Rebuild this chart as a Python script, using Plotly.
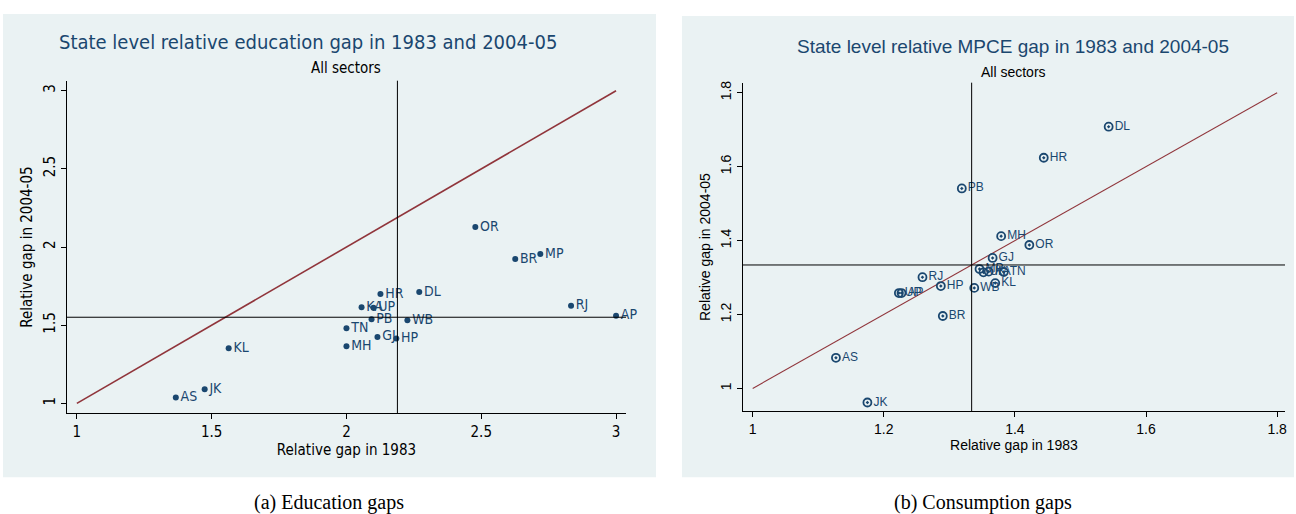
import plotly.graph_objects as go

# Panel (a): relative education gap by state
edu_states = ["AS", "JK", "KL", "MH", "TN", "GJ", "HP", "PB", "KA", "UP",
              "WB", "HR", "DL", "OR", "BR", "MP", "RJ", "AP"]
edu_1983 = [1.367, 1.474, 1.563, 2.0, 2.0, 2.115, 2.185, 2.093, 2.056, 2.1,
            2.226, 2.126, 2.270, 2.478, 2.626, 2.719, 2.833, 3.0]
edu_2004 = [1.038, 1.090, 1.353, 1.365, 1.480, 1.425, 1.415, 1.538, 1.615, 1.612,
            1.532, 1.699, 1.712, 2.128, 1.923, 1.955, 1.624, 1.560]
edu_diag = [1, 3]
edu_mean_1983 = 2.189
edu_mean_2004 = 1.551

# Panel (b): relative MPCE gap by state
mpce_states = ["JK", "AS", "BR", "UP", "AP", "RJ", "HP", "WB", "PB", "MP",
               "UK", "KA", "TN", "KL", "GJ", "MH", "OR", "HR", "DL"]
mpce_1983 = [1.175, 1.127, 1.290, 1.223, 1.227, 1.259, 1.287, 1.338, 1.319, 1.346,
             1.352, 1.360, 1.383, 1.370, 1.366, 1.379, 1.422, 1.444, 1.543]
mpce_2004 = [0.962, 1.083, 1.196, 1.258, 1.258, 1.301, 1.277, 1.272, 1.541, 1.323,
             1.314, 1.316, 1.315, 1.285, 1.353, 1.412, 1.388, 1.624, 1.708]
mpce_diag = [1, 1.8]
mpce_mean = 1.334

edu_ticks = [1, 1.5, 2, 2.5, 3]
mpce_ticks = [1, 1.2, 1.4, 1.6, 1.8]

NAVY = "#1a476f"
MAROON = "#90353b"
BG = "#eaf2f3"
NARROW = "Liberation Sans Narrow, DejaVu Sans Condensed, Liberation Sans, sans-serif"
SANS = "Liberation Sans, Arial, sans-serif"
SERIF = "Liberation Serif, DejaVu Serif, serif"

W, H = 1296, 514


def px(x):
    return x / W


def py(y):
    return 1 - y / H


fig = go.Figure()

# panel backgrounds
for x0, x1, y0, y1 in [(3, 657, 12, 477), (683, 1296, 14, 477)]:
    fig.add_shape(type="rect", xref="paper", yref="paper",
                  x0=px(x0), x1=px(x1), y0=py(y1), y1=py(y0),
                  fillcolor=BG, line_width=0, layer="below")

# diagonal lines
fig.add_trace(go.Scatter(x=edu_diag, y=edu_diag, mode="lines",
                         line=dict(color=MAROON, width=1.6),
                         xaxis="x", yaxis="y", hoverinfo="skip"))
fig.add_trace(go.Scatter(x=mpce_diag, y=mpce_diag, mode="lines",
                         line=dict(color=MAROON, width=1.1),
                         xaxis="x2", yaxis="y2", hoverinfo="skip"))

# scatter points with state labels
fig.add_trace(go.Scatter(
    x=edu_1983, y=edu_2004, text=edu_states, mode="markers+text",
    textposition="middle right", cliponaxis=False,
    marker=dict(color=NAVY, size=6),
    textfont=dict(color=NAVY, size=14, family=NARROW),
    xaxis="x", yaxis="y"))
fig.add_trace(go.Scatter(
    x=mpce_1983, y=mpce_2004, text=mpce_states, mode="markers+text",
    textposition="middle right", cliponaxis=False,
    marker=dict(color=NAVY, size=8, symbol="circle-open-dot",
                line=dict(color=NAVY, width=1.8)),
    textfont=dict(color=NAVY, size=12, family=SANS),
    xaxis="x2", yaxis="y2"))

# reference lines at means
fig.add_shape(type="line", xref="x", yref="y domain", x0=edu_mean_1983, x1=edu_mean_1983,
              y0=0, y1=1, line=dict(color="black", width=1))
fig.add_shape(type="line", xref="x domain", yref="y", x0=0, x1=1,
              y0=edu_mean_2004, y1=edu_mean_2004, line=dict(color="black", width=1))
fig.add_shape(type="line", xref="x2", yref="y2 domain", x0=mpce_mean, x1=mpce_mean,
              y0=0, y1=1, line=dict(color="black", width=1))
fig.add_shape(type="line", xref="x2 domain", yref="y2", x0=0, x1=1,
              y0=mpce_mean, y1=mpce_mean, line=dict(color="black", width=1))

common_x = dict(showline=True, linecolor="black", linewidth=1, ticks="outside",
                ticklen=5, tickcolor="black", showgrid=False, zeroline=False,
                mirror=False)
common_y = dict(showline=True, linecolor="black", linewidth=1, ticks="outside",
                ticklen=5, tickcolor="black", showgrid=True, gridcolor=BG,
                gridwidth=1, zeroline=False, tickangle=-90)

fig.update_layout(
    width=W, height=H,
    margin=dict(l=0, r=0, t=0, b=0),
    paper_bgcolor="white", plot_bgcolor="white",
    showlegend=False,
    xaxis=dict(common_x, domain=[px(67), px(627)], range=[0.963, 3.037],
               tickvals=edu_ticks, ticktext=["1", "1.5", "2", "2.5", "3"],
               tickfont=dict(size=15, family=NARROW, color="black"),
               title=dict(text="Relative gap in 1983", standoff=2,
                          font=dict(size=15, family=NARROW, color="black")),
               anchor="y"),
    yaxis=dict(common_y, domain=[py(413), py(79)], range=[0.936, 3.064],
               tickvals=edu_ticks, ticktext=["1", "1.5", "2", "2.5", "3"],
               tickfont=dict(size=15, family=NARROW, color="black"),
               title=dict(text="Relative gap in 2004-05", standoff=4,
                          font=dict(size=15, family=NARROW, color="black")),
               anchor="x"),
    xaxis2=dict(common_x, domain=[px(744), px(1287)], range=[0.985, 1.812],
                tickvals=mpce_ticks, ticktext=["1", "1.2", "1.4", "1.6", "1.8"],
                tickfont=dict(size=14, family=SANS, color="black"),
                title=dict(text="Relative gap in 1983", standoff=2,
                           font=dict(size=14, family=SANS, color="black")),
                anchor="y2"),
    yaxis2=dict(common_y, domain=[py(411), py(81)], range=[0.938, 1.827],
                tickvals=mpce_ticks, ticktext=["1", "1.2", "1.4", "1.6", "1.8"],
                tickfont=dict(size=14, family=SANS, color="black"),
                title=dict(text="Relative gap in 2004-05", standoff=4,
                           font=dict(size=14, family=SANS, color="black")),
                anchor="x2"),
)

# titles, subtitles and captions
notes = [
    ("State level relative education gap in 1983 and 2004-05", 308, 40, 20, NARROW, NAVY),
    ("All sectors", 347, 66, 15, NARROW, "black"),
    ("State level relative MPCE gap in 1983 and 2004-05", 1015, 45, 19, SANS, NAVY),
    ("All sectors", 1015, 70, 14, SANS, "black"),
    ("(a) Education gaps", 330, 502, 20, SERIF, "black"),
    ("(b) Consumption gaps", 985, 502, 20, SERIF, "black"),
]
for text, x, y, size, fam, col in notes:
    fig.add_annotation(text=text, xref="paper", yref="paper", x=px(x), y=py(y),
                       xanchor="center", yanchor="middle", showarrow=False,
                       font=dict(size=size, family=fam, color=col))

fig.write_html("out.html", config={"displayModeBar": False},
               post_script="document.body.style.margin='0';")
